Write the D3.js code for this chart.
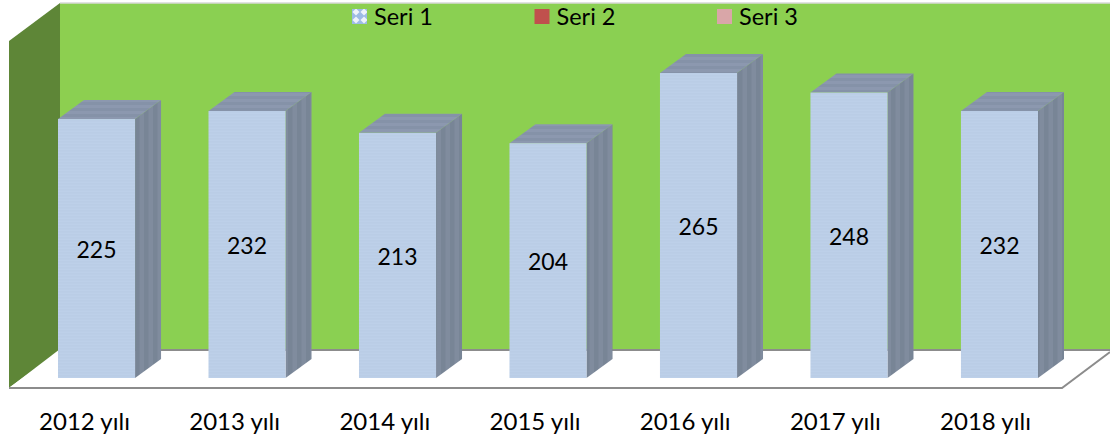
<!DOCTYPE html>
<html>
<head>
<meta charset="utf-8">
<script src="https://cdnjs.cloudflare.com/ajax/libs/d3/7.8.5/d3.min.js"></script>
<style>
  html, body { margin: 0; padding: 0; background: #fff; }
  text { font-family: Lato, "Open Sans", sans-serif; fill: #000; }
</style>
</head>
<body>
<script>
const years = ["2012 yılı", "2013 yılı", "2014 yılı", "2015 yılı", "2016 yılı", "2017 yılı", "2018 yılı"];
const seri1 = [225, 232, 213, 204, 265, 248, 232];
const seriNames = ["Seri 1", "Seri 2", "Seri 3"];

const w = 1110, h = 442;
const depthX = 26, depthY = 19;

const svg = d3.select("body").append("svg")
  .attr("width", w).attr("height", h)
  .style("display", "block");

const defs = svg.append("defs");

// fine stripes/dither, the original has a picture fill on everything
function stripes(id, base, over, horizontal, size) {
  const p = defs.append("pattern").attr("id", id)
    .attr("patternUnits", "userSpaceOnUse")
    .attr("width", size).attr("height", size);
  p.append("rect").attr("width", size).attr("height", size).attr("fill", base);
  if (horizontal) p.append("rect").attr("width", size).attr("height", size / 2).attr("fill", over);
  else p.append("rect").attr("width", size / 2).attr("height", size).attr("fill", over);
}
stripes("wallFill", "#8ad052", "#8dcf50", false, 20);
stripes("sideFill", "#808c9e", "#788596", false, 9);
stripes("topFill", "#8c98af", "#8592a8", true, 6);
stripes("frontFill", "#bdd0e9", "#bacde6", true, 3);

const seri1Pat = defs.append("pattern").attr("id", "legendFill")
  .attr("patternUnits", "userSpaceOnUse").attr("width", 8).attr("height", 8);
seri1Pat.append("rect").attr("width", 8).attr("height", 8).attr("fill", "#9dbbe6");
seri1Pat.append("rect").attr("x", 1.5).attr("y", 1.5).attr("width", 5).attr("height", 5)
  .attr("fill", "#eef3fb").attr("transform", "rotate(45 4 4)");

const x = d3.scaleBand().domain(years).range([58, 1038]).paddingInner(0.488).paddingOuter(0);
const y = d3.scaleLinear().domain([0, 265]).range([378, 73]);
// the year labels sit on the floor edge, so they are a little left of the bars
const labelX = d3.scalePoint().domain(years).range([84.5, 985.5]);

const line = d3.line();

// walls and floor
svg.append("path")
  .attr("d", line([[60, 3], [1110, 3], [1110, 349], [60, 349]]) + "Z")
  .attr("fill", "url(#wallFill)");
svg.append("path")
  .attr("d", line([[9, 41], [60, 3], [60, 349], [9, 388]]) + "Z")
  .attr("fill", "#5e8637");
svg.append("path")
  .attr("d", line([[60, 3], [1110, 3]]))
  .attr("stroke", "#d9d9d9").attr("stroke-width", 1.5).attr("fill", "none");
svg.append("path")
  .attr("d", line([[60, 350], [1110, 350]]))
  .attr("stroke", "#8c8c8c").attr("stroke-width", 2).attr("fill", "none");
svg.append("path")
  .attr("d", line([[60, 351], [1109, 351], [1062, 387], [10, 387]]) + "Z")
  .attr("fill", "#fff");
svg.append("path")
  .attr("d", line([[9, 388], [1062, 388], [1110, 352]]))
  .attr("stroke", "#8c8c8c").attr("stroke-width", 2).attr("fill", "none");

// bars
const bars = svg.selectAll("g.bar")
  .data(seri1)
  .enter().append("g")
  .attr("class", "bar");

bars.append("path")
  .attr("d", (d, i) => {
    const x1 = x(years[i]) + x.bandwidth();
    return line([[x1, y(d)], [x1 + depthX, y(d) - depthY], [x1 + depthX, y(0) - depthY], [x1, y(0)]]) + "Z";
  })
  .attr("fill", "url(#sideFill)");

bars.append("path")
  .attr("d", (d, i) => {
    const x0 = x(years[i]), x1 = x0 + x.bandwidth();
    return line([[x0, y(d)], [x0 + depthX, y(d) - depthY], [x1 + depthX, y(d) - depthY], [x1, y(d)]]) + "Z";
  })
  .attr("fill", "url(#topFill)");

bars.append("rect")
  .attr("x", (d, i) => x(years[i]))
  .attr("y", d => y(d))
  .attr("width", x.bandwidth())
  .attr("height", d => y(0) - y(d))
  .attr("fill", "url(#frontFill)");

bars.append("text")
  .attr("x", (d, i) => x(years[i]) + x.bandwidth() / 2)
  .attr("y", d => (y(d) + y(0)) / 2 + 4)
  .attr("text-anchor", "middle")
  .attr("dominant-baseline", "middle")
  .attr("font-size", 23)
  .text(d => d);

// category labels
svg.selectAll("text.year")
  .data(years)
  .enter().append("text")
  .attr("class", "year")
  .attr("x", d => labelX(d))
  .attr("y", 430)
  .attr("text-anchor", "middle")
  .attr("font-size", 24)
  .text(d => d);

// legend
const legendX = d3.scalePoint().domain(seriNames).range([352, 717]);
const legendColor = d3.scaleOrdinal().domain(seriNames).range(["url(#legendFill)", "#c0504d", "#d9a6a8"]);

svg.selectAll("rect.key")
  .data(seriNames)
  .enter().append("rect")
  .attr("class", "key")
  .attr("x", d => legendX(d))
  .attr("y", 9)
  .attr("width", 15).attr("height", 15)
  .attr("fill", d => legendColor(d));

svg.selectAll("text.key")
  .data(seriNames)
  .enter().append("text")
  .attr("class", "key")
  .attr("x", d => legendX(d) + 22)
  .attr("y", 25)
  .attr("font-size", 23.5)
  .text(d => d);
</script>
</body>
</html>
